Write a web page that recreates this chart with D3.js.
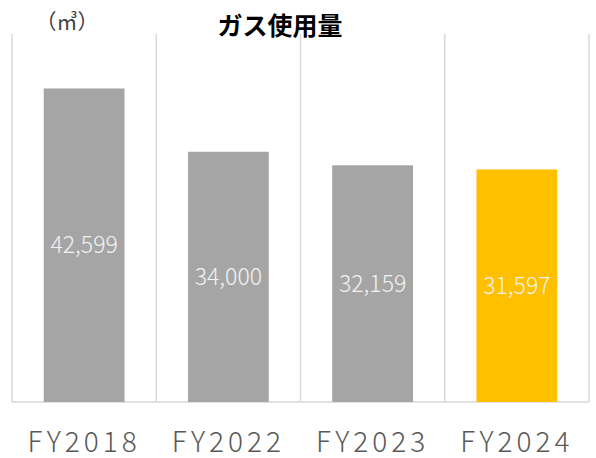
<!DOCTYPE html>
<html><head><meta charset="utf-8">
<script src="https://cdn.jsdelivr.net/npm/d3@7"></script>
<style>body{margin:0;background:#fff;}svg{display:block;}</style>
</head><body>
<script>
const categories = ["FY2018","FY2022","FY2023","FY2024"];
const values = [42599, 34000, 32159, 31597];
const colors = ["#a5a5a5","#a5a5a5","#a5a5a5","#ffc000"];
const title = "ガス使用量";
const unit = "（㎥）";

const W = 596, H = 458;
const m = {left: 12, right: 7, top: 34, bottom: 56};
const svg = d3.select("body").append("svg").attr("width", W).attr("height", H);
const x = d3.scaleBand().domain(categories).range([m.left, W - m.right]).paddingInner(0).paddingOuter(0);
const y = d3.scaleLinear().domain([0, 50000]).range([H - m.bottom, m.top]);

// vertical gridlines at band edges
const edges = categories.map(c => x(c)).concat([x(categories[categories.length-1]) + x.bandwidth()]);
svg.append("g").selectAll("line").data(edges).join("line")
  .attr("x1", d => d).attr("x2", d => d)
  .attr("y1", y(50000)).attr("y2", y(0))
  .attr("stroke", "#d9d9d9").attr("stroke-width", 1.5);
svg.append("line").attr("x1", m.left).attr("x2", W - m.right)
  .attr("y1", y(0)).attr("y2", y(0)).attr("stroke", "#d9d9d9").attr("stroke-width", 1.5);

const bw = x.bandwidth() * 0.56;
const data = categories.map((c, i) => ({c, v: values[i], col: colors[i]}));
svg.append("g").selectAll("rect").data(data).join("rect")
  .attr("x", d => x(d.c) + (x.bandwidth() - bw) / 2)
  .attr("width", bw)
  .attr("y", d => y(d.v))
  .attr("height", d => y(0) - y(d.v))
  .attr("fill", d => d.col);

const fmt = d3.format(",");
svg.append("g").selectAll("text").data(data).join("text")
  .attr("x", d => x(d.c) + x.bandwidth() / 2)
  .attr("y", d => (y(d.v) + y(0)) / 2)
  .attr("dy", "0.35em")
  .attr("text-anchor", "middle")
  .attr("fill", "#f2f2f2")
  .style("font-family", "'Noto Sans CJK JP','Noto Sans',sans-serif")
  .style("font-weight", 300)
  .style("font-size", "23px")
  .text(d => fmt(d.v));

// x axis labels
const xAxis = d3.axisBottom(x).tickSize(0).tickPadding(0);
const gx = svg.append("g").attr("transform", `translate(0,${y(0)})`).call(xAxis);
gx.select(".domain").remove();
gx.selectAll("text")
  .attr("y", 50)
  .attr("dy", 0)
  .attr("fill", "#595959")
  .style("font-family", "'Noto Sans CJK JP','Noto Sans',sans-serif")
  .style("font-weight", 300)
  .style("font-size", "28px")
  .style("letter-spacing", "4px");

svg.append("text").attr("x", 280).attr("y", 35)
  .attr("text-anchor", "middle").attr("fill", "#000")
  .style("font-family", "'Noto Sans CJK JP',sans-serif")
  .style("font-weight", 700).style("font-size", "25px")
  .text(title);
svg.append("text").attr("x", 67).attr("y", 29)
  .attr("text-anchor", "middle").attr("fill", "#404040")
  .style("font-family", "'Noto Sans CJK JP',sans-serif")
  .style("font-size", "21px")
  .text(unit);
</script>
</body></html>
